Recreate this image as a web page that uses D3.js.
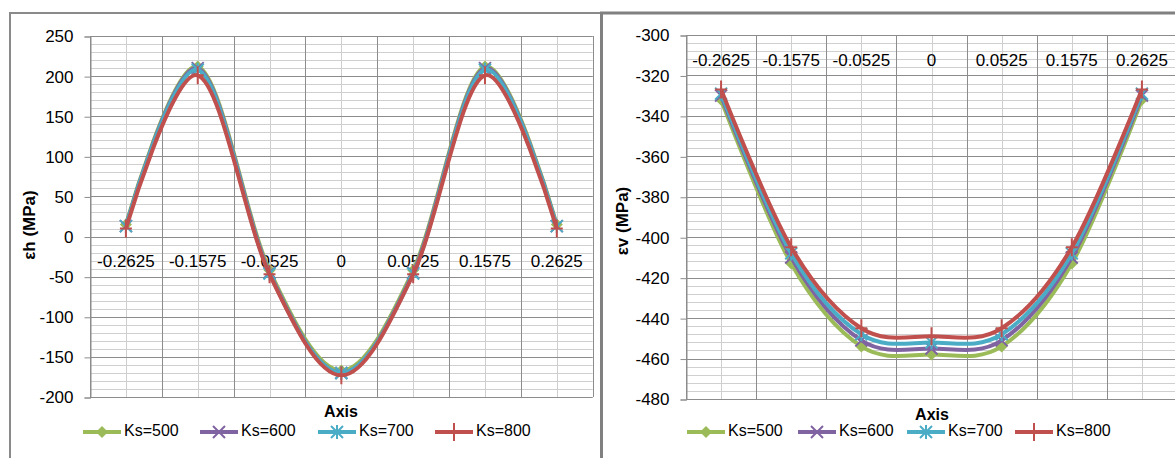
<!DOCTYPE html>
<html lang="en">
<head>
  <meta charset="UTF-8">
  <title>εh and εv vs Axis</title>
  <script src="https://d3js.org/d3.v7.min.js"></script>
  <style>
    body {
      margin: 0;
      background: #fff;
      font-family: "Liberation Sans", Arial, sans-serif;
    }
    svg text { fill: #000; }
  </style>
</head>
<body>
  <svg id="chart" width="1175" height="458"></svg>

  <script>
    // Categories on the x axis
    const categories = ["-0.2625", "-0.1575", "-0.0525", "0", "0.0525", "0.1575", "0.2625"];
    const seriesNames = ["Ks=500", "Ks=600", "Ks=700", "Ks=800"];

    // εh (MPa), left chart
    const ehKs500 = [15, 212, -42, -167, -42, 212, 15];
    const ehKs600 = [13, 210, -45, -170, -45, 210, 13];
    const ehKs700 = [13, 208, -46, -170, -46, 208, 13];
    const ehKs800 = [10, 201, -47, -173, -47, 201, 10];

    // εv (MPa), right chart
    const evKs500 = [-332, -413, -454, -458, -454, -413, -332];
    const evKs600 = [-330, -410, -451, -455, -451, -410, -330];
    const evKs700 = [-329, -408, -448, -452, -448, -408, -329];
    const evKs800 = [-327, -405, -445, -449, -445, -405, -327];

    const ehTicks = [250, 200, 150, 100, 50, 0, -50, -100, -150, -200];
    const evTicks = [-300, -320, -340, -360, -380, -400, -420, -440, -460, -480];

    const colors = ["#9bbb59", "#8064a2", "#4bacc6", "#c0504d"];
    const markers = ["diamond", "x", "star", "plus"];

    const svg = d3.select("#chart");

    // outer frames
    svg.append("path")
      .attr("d", "M10,458 V13 H600")
      .attr("fill", "none").attr("stroke", "#8a8a8a").attr("stroke-width", 2);
    svg.append("path")
      .attr("d", "M601.5,458 V13 H1175")
      .attr("fill", "none").attr("stroke", "#808080").attr("stroke-width", 3);

    function drawMarker(g, type, cx, cy, color) {
      if (type === "diamond") {
        g.append("path")
          .attr("d", `M${cx},${cy - 6} L${cx + 6},${cy} L${cx},${cy + 6} L${cx - 6},${cy} Z`)
          .attr("fill", color);
      } else if (type === "x") {
        g.append("path")
          .attr("d", `M${cx - 6},${cy - 6} L${cx + 6},${cy + 6} M${cx - 6},${cy + 6} L${cx + 6},${cy - 6}`)
          .attr("stroke", color).attr("stroke-width", 2);
      } else if (type === "star") {
        g.append("path")
          .attr("d", `M${cx - 6},${cy - 6} L${cx + 6},${cy + 6} M${cx - 6},${cy + 6} L${cx + 6},${cy - 6} M${cx},${cy - 7} L${cx},${cy + 7}`)
          .attr("stroke", color).attr("stroke-width", 2);
      } else {
        g.append("path")
          .attr("d", `M${cx - 6},${cy} L${cx + 6},${cy} M${cx},${cy - 9} L${cx},${cy + 9}`)
          .attr("stroke", color).attr("stroke-width", 2);
      }
    }

    function drawChart(cfg) {
      const g = svg.append("g");
      const x = d3.scaleBand().domain(categories).range([cfg.left, cfg.right]);
      const xc = d => x(d) + x.bandwidth() / 2;
      const y = d3.scaleLinear().domain([cfg.min, cfg.max]).range([cfg.bottom, cfg.top]);

      // minor horizontal grid
      g.append("g").selectAll("line")
        .data(d3.range(cfg.min, cfg.max + 0.001, cfg.minor))
        .join("line")
        .attr("x1", cfg.left).attr("x2", cfg.right)
        .attr("y1", d => Math.round(y(d)) + 0.5).attr("y2", d => Math.round(y(d)) + 0.5)
        .attr("stroke", "#d0d0d0");

      // minor vertical grid (category centres)
      g.append("g").selectAll("line")
        .data(categories)
        .join("line")
        .attr("x1", d => Math.round(xc(d)) + 0.5).attr("x2", d => Math.round(xc(d)) + 0.5)
        .attr("y1", cfg.top).attr("y2", cfg.bottom)
        .attr("stroke", "#cfcfcf");

      // major vertical grid (band edges)
      g.append("g").selectAll("line")
        .data(categories.concat(["end"]))
        .join("line")
        .attr("x1", (d, i) => Math.round(cfg.left + i * x.bandwidth()) + 0.5)
        .attr("x2", (d, i) => Math.round(cfg.left + i * x.bandwidth()) + 0.5)
        .attr("y1", cfg.top).attr("y2", cfg.bottom)
        .attr("stroke", "#8c8c8c");

      // major horizontal grid
      g.append("g").selectAll("line")
        .data(cfg.ticks)
        .join("line")
        .attr("x1", cfg.left).attr("x2", cfg.right)
        .attr("y1", d => Math.round(y(d)) + 0.5).attr("y2", d => Math.round(y(d)) + 0.5)
        .attr("stroke", "#8c8c8c");

      // y axis
      const yAxis = g.append("g")
        .attr("transform", `translate(${cfg.left + 0.5},0.5)`)
        .call(d3.axisLeft(y).tickValues(cfg.ticks).tickSize(6).tickPadding(11).tickFormat(d3.format("d")));
      yAxis.select(".domain").attr("stroke", "#8c8c8c");
      yAxis.selectAll(".tick line").attr("stroke", "#8c8c8c");
      yAxis.selectAll("text")
        .attr("font-family", "'Liberation Sans', Arial, sans-serif")
        .attr("font-size", 17).attr("fill", "#000")
        .text(d => d < 0 ? "-" + Math.abs(d) : d);

      // category labels
      g.append("g").selectAll("text")
        .data(categories)
        .join("text")
        .attr("x", d => xc(d))
        .attr("y", cfg.labelY)
        .attr("text-anchor", "middle")
        .attr("dominant-baseline", "middle")
        .attr("font-size", 17)
        .text(d => d);

      // series
      const line = d3.line()
        .x((d, i) => xc(categories[i]))
        .y(d => y(d))
        .curve(d3.curveCatmullRom.alpha(0));

      cfg.series.forEach((s, k) => {
        g.append("path")
          .datum(s)
          .attr("fill", "none")
          .attr("stroke", colors[k])
          .attr("stroke-width", 4)
          .attr("d", line);
        const mg = g.append("g");
        s.forEach((v, i) => drawMarker(mg, markers[k], xc(categories[i]), y(v), colors[k]));
      });

      // axis titles
      g.append("text")
        .attr("transform", `translate(${cfg.yTitleX},${cfg.yTitleY}) rotate(-90)`)
        .attr("text-anchor", "middle")
        .attr("dominant-baseline", "middle")
        .attr("font-size", 17).attr("font-weight", "bold")
        .text(cfg.yTitle);

      g.append("text")
        .attr("x", cfg.axisTitleX).attr("y", cfg.axisTitleY)
        .attr("text-anchor", "middle")
        .attr("dominant-baseline", "middle")
        .attr("font-size", 16).attr("font-weight", "bold")
        .text("Axis");

      // legend
      const lg = g.append("g");
      seriesNames.forEach((name, k) => {
        const lx = cfg.legendX[k];
        lg.append("line")
          .attr("x1", lx).attr("x2", lx + 38)
          .attr("y1", cfg.legendY).attr("y2", cfg.legendY)
          .attr("stroke", colors[k]).attr("stroke-width", 4);
        drawMarker(lg, markers[k], lx + 19, cfg.legendY, colors[k]);
        lg.append("text")
          .attr("x", lx + 41).attr("y", cfg.legendY)
          .attr("dominant-baseline", "middle")
          .attr("font-size", 16)
          .text(name);
      });
    }

    drawChart({
      left: 90, right: 592.7, top: 36, bottom: 397,
      min: -200, max: 250, minor: 10, ticks: ehTicks,
      labelY: 263,
      series: [ehKs500, ehKs600, ehKs700, ehKs800],
      yTitle: "εh (MPa)", yTitleX: 31, yTitleY: 225,
      axisTitleX: 341, axisTitleY: 413,
      legendX: [83, 200, 318, 435], legendY: 432
    });

    drawChart({
      left: 686, right: 1177, top: 35, bottom: 399,
      min: -480, max: -300, minor: 4, ticks: evTicks,
      labelY: 62,
      series: [evKs500, evKs600, evKs700, evKs800],
      yTitle: "εv (MPa)", yTitleX: 624, yTitleY: 221,
      axisTitleX: 932, axisTitleY: 416,
      legendX: [687, 798, 907, 1015], legendY: 432
    });
  </script>
</body>
</html>
